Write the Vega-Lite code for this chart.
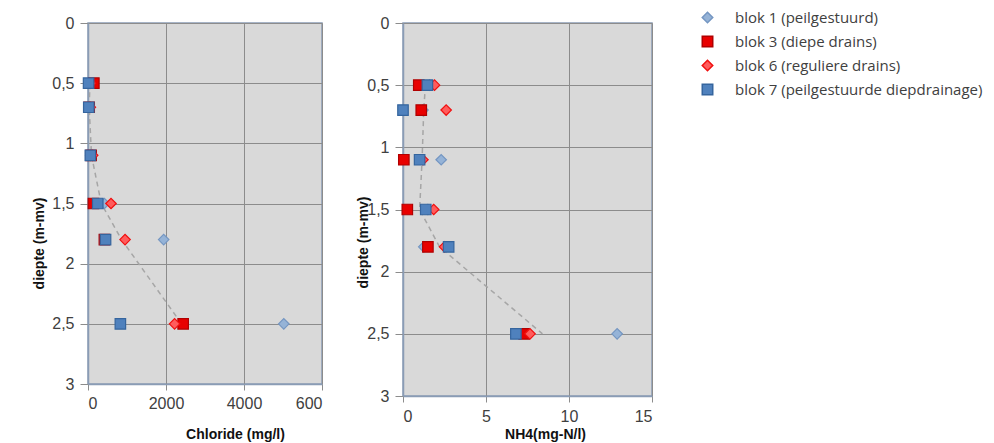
{
  "$schema": "https://vega.github.io/schema/vega-lite/v6.json",
  "autosize": {"type": "pad"},
  "background": "white",
  "padding": {"left": 31, "top": 10, "right": 0, "bottom": 0},
  "bounds": "flush",
  "spacing": 81,
  "config": {
    "view": {"fill": "#d9d9d9", "stroke": "#8a9cb5", "strokeWidth": 1.5},
    "axis": {
      "labelFont": "Liberation Sans", "labelFontSize": 16, "labelColor": "#404040",
      "titleFont": "Liberation Sans", "titleFontSize": 14, "titleFontWeight": "bold", "titleColor": "#111111",
      "gridColor": "#8c8c8c", "gridWidth": 1, "gridOpacity": 1,
      "domainColor": "#8a9cb5", "domainWidth": 1.5,
      "tickColor": "#8c8c8c", "tickWidth": 1
    },
    "legend": {
      "labelFont": "Open Sans", "labelFontSize": 15, "labelColor": "#404040",
      "symbolSize": 110, "rowPadding": 7, "labelOffset": 20, "padding": 0, "labelLimit": 400
    }
  },
  "datasets": {
    "cl": [
      {"blok": "blok 1 (peilgestuurd)", "depth": 0.5, "value": 40},
      {"blok": "blok 1 (peilgestuurd)", "depth": 0.7, "value": 25},
      {"blok": "blok 1 (peilgestuurd)", "depth": 1.1, "value": 70},
      {"blok": "blok 1 (peilgestuurd)", "depth": 1.5, "value": 420},
      {"blok": "blok 1 (peilgestuurd)", "depth": 1.8, "value": 1940},
      {"blok": "blok 1 (peilgestuurd)", "depth": 2.5, "value": 5020},
      {"blok": "blok 3 (diepe drains)", "depth": 0.5, "value": 150},
      {"blok": "blok 3 (diepe drains)", "depth": 0.7, "value": 30},
      {"blok": "blok 3 (diepe drains)", "depth": 1.1, "value": 80},
      {"blok": "blok 3 (diepe drains)", "depth": 1.5, "value": 140},
      {"blok": "blok 3 (diepe drains)", "depth": 1.8, "value": 420},
      {"blok": "blok 3 (diepe drains)", "depth": 2.5, "value": 2440},
      {"blok": "blok 6 (reguliere drains)", "depth": 0.5, "value": 60},
      {"blok": "blok 6 (reguliere drains)", "depth": 0.7, "value": 60},
      {"blok": "blok 6 (reguliere drains)", "depth": 1.1, "value": 120},
      {"blok": "blok 6 (reguliere drains)", "depth": 1.5, "value": 590},
      {"blok": "blok 6 (reguliere drains)", "depth": 1.8, "value": 950},
      {"blok": "blok 6 (reguliere drains)", "depth": 2.5, "value": 2220},
      {"blok": "blok 7 (peilgestuurde diepdrainage)", "depth": 0.5, "value": 15},
      {"blok": "blok 7 (peilgestuurde diepdrainage)", "depth": 0.7, "value": 20},
      {"blok": "blok 7 (peilgestuurde diepdrainage)", "depth": 1.1, "value": 60},
      {"blok": "blok 7 (peilgestuurde diepdrainage)", "depth": 1.5, "value": 250},
      {"blok": "blok 7 (peilgestuurde diepdrainage)", "depth": 1.8, "value": 450},
      {"blok": "blok 7 (peilgestuurde diepdrainage)", "depth": 2.5, "value": 830}
    ],
    "cl_trend": [
      {"depth": 0.5, "value": 50},
      {"depth": 0.7, "value": 30},
      {"depth": 1.1, "value": 90},
      {"depth": 1.5, "value": 340},
      {"depth": 1.8, "value": 860},
      {"depth": 2.5, "value": 2400}
    ],
    "nh4": [
      {"blok": "blok 1 (peilgestuurd)", "depth": 0.5, "value": 1.6},
      {"blok": "blok 1 (peilgestuurd)", "depth": 0.7, "value": 1.2},
      {"blok": "blok 1 (peilgestuurd)", "depth": 1.1, "value": 2.3},
      {"blok": "blok 1 (peilgestuurd)", "depth": 1.5, "value": 1.5},
      {"blok": "blok 1 (peilgestuurd)", "depth": 1.8, "value": 1.25},
      {"blok": "blok 1 (peilgestuurd)", "depth": 2.5, "value": 12.9},
      {"blok": "blok 3 (diepe drains)", "depth": 0.5, "value": 0.95},
      {"blok": "blok 3 (diepe drains)", "depth": 0.7, "value": 1.1},
      {"blok": "blok 3 (diepe drains)", "depth": 1.1, "value": 0.05},
      {"blok": "blok 3 (diepe drains)", "depth": 1.5, "value": 0.26},
      {"blok": "blok 3 (diepe drains)", "depth": 1.8, "value": 1.5},
      {"blok": "blok 3 (diepe drains)", "depth": 2.5, "value": 7.3},
      {"blok": "blok 6 (reguliere drains)", "depth": 0.5, "value": 1.9},
      {"blok": "blok 6 (reguliere drains)", "depth": 0.7, "value": 2.6},
      {"blok": "blok 6 (reguliere drains)", "depth": 1.1, "value": 1.2},
      {"blok": "blok 6 (reguliere drains)", "depth": 1.5, "value": 1.85},
      {"blok": "blok 6 (reguliere drains)", "depth": 1.8, "value": 2.5},
      {"blok": "blok 6 (reguliere drains)", "depth": 2.5, "value": 7.65},
      {"blok": "blok 7 (peilgestuurde diepdrainage)", "depth": 0.5, "value": 1.47},
      {"blok": "blok 7 (peilgestuurde diepdrainage)", "depth": 0.7, "value": 0.0},
      {"blok": "blok 7 (peilgestuurde diepdrainage)", "depth": 1.1, "value": 1.0},
      {"blok": "blok 7 (peilgestuurde diepdrainage)", "depth": 1.5, "value": 1.37},
      {"blok": "blok 7 (peilgestuurde diepdrainage)", "depth": 1.8, "value": 2.75},
      {"blok": "blok 7 (peilgestuurde diepdrainage)", "depth": 2.5, "value": 6.8}
    ],
    "nh4_trend": [
      {"depth": 0.5, "value": 1.35},
      {"depth": 0.7, "value": 1.25},
      {"depth": 1.1, "value": 1.15},
      {"depth": 1.5, "value": 1.0},
      {"depth": 1.8, "value": 2.2},
      {"depth": 2.5, "value": 8.4}
    ]
  },
  "hconcat": [
    {
      "width": 234,
      "height": 361,
      "layer": [
        {
          "data": {"name": "cl_trend"},
          "mark": {"type": "line", "color": "#a6a6a6", "strokeWidth": 1.5, "strokeDash": [5, 4]},
          "encoding": {
            "x": {"field": "value", "type": "quantitative"},
            "y": {"field": "depth", "type": "quantitative"},
            "order": {"field": "depth"}
          }
        },
        {
          "data": {"name": "cl"},
          "mark": {"type": "point", "filled": true, "opacity": 1, "size": 110, "strokeWidth": 1.2},
          "encoding": {
            "x": {
              "field": "value", "type": "quantitative",
              "scale": {"domain": [0, 6000], "nice": false},
              "axis": {"values": [0, 2000, 4000, 6000], "title": "Chloride (mg/l)", "tickSize": 6, "labelPadding": 5,
                "labelExpr": "datum.value == 6000 ? '600' : datum.label", "format": "d",
                "titleX": 147, "titleY": 50, "titleBaseline": "middle"}
            },
            "y": {
              "field": "depth", "type": "quantitative",
              "scale": {"domain": [0, 3], "reverse": true, "nice": false},
              "axis": {"values": [0, 0.5, 1, 1.5, 2, 2.5, 3], "title": "diepte (m-mv)", "tickSize": 8, "labelPadding": 6,
                "format": "~g", "labelExpr": "replace(datum.label, '.', ',')",
                "titleX": -49, "titleY": 220, "titleBaseline": "middle"}
            },
            "shape": {"field": "blok", "type": "nominal", "scale": {"range": ["diamond", "square", "diamond", "square"]}, "legend": {"title": null, "orient": "none", "legendX": 612, "legendY": -13}},
            "fill": {"field": "blok", "type": "nominal", "scale": {"range": ["#95b3d7", "#e80000", "#ff5c5c", "#4f81bd"]}, "legend": {"title": null, "orient": "none", "legendX": 612, "legendY": -13}},
            "stroke": {"field": "blok", "type": "nominal", "scale": {"range": ["#7496c2", "#b00000", "#f01010", "#35659e"]}, "legend": {"title": null, "orient": "none", "legendX": 612, "legendY": -13}}
          }
        }
      ]
    },
    {
      "width": 249,
      "height": 373,
      "layer": [
        {
          "data": {"name": "nh4_trend"},
          "mark": {"type": "line", "color": "#a6a6a6", "strokeWidth": 1.5, "strokeDash": [5, 4]},
          "encoding": {
            "x": {"field": "value", "type": "quantitative"},
            "y": {"field": "depth", "type": "quantitative"},
            "order": {"field": "depth"}
          }
        },
        {
          "data": {"name": "nh4"},
          "mark": {"type": "point", "filled": true, "opacity": 1, "size": 110, "strokeWidth": 1.2},
          "encoding": {
            "x": {
              "field": "value", "type": "quantitative",
              "scale": {"domain": [0, 15], "nice": false},
              "axis": {"values": [0, 5, 10, 15], "title": "NH4(mg-N/l)", "tickSize": 6, "labelPadding": 6,
                "titleX": 142, "titleY": 38, "titleBaseline": "middle"}
            },
            "y": {
              "field": "depth", "type": "quantitative",
              "scale": {"domain": [0, 3], "reverse": true, "nice": false},
              "axis": {"values": [0, 0.5, 1, 1.5, 2, 2.5, 3], "title": "diepte (m-mv)", "tickSize": 8, "labelPadding": 6,
                "format": "~g", "labelExpr": "replace(datum.label, '.', ',')",
                "titleX": -40, "titleY": 219, "titleBaseline": "middle"}
            },
            "shape": {"field": "blok", "type": "nominal"},
            "fill": {"field": "blok", "type": "nominal"},
            "stroke": {"field": "blok", "type": "nominal"}
          }
        }
      ]
    }
  ]
}
